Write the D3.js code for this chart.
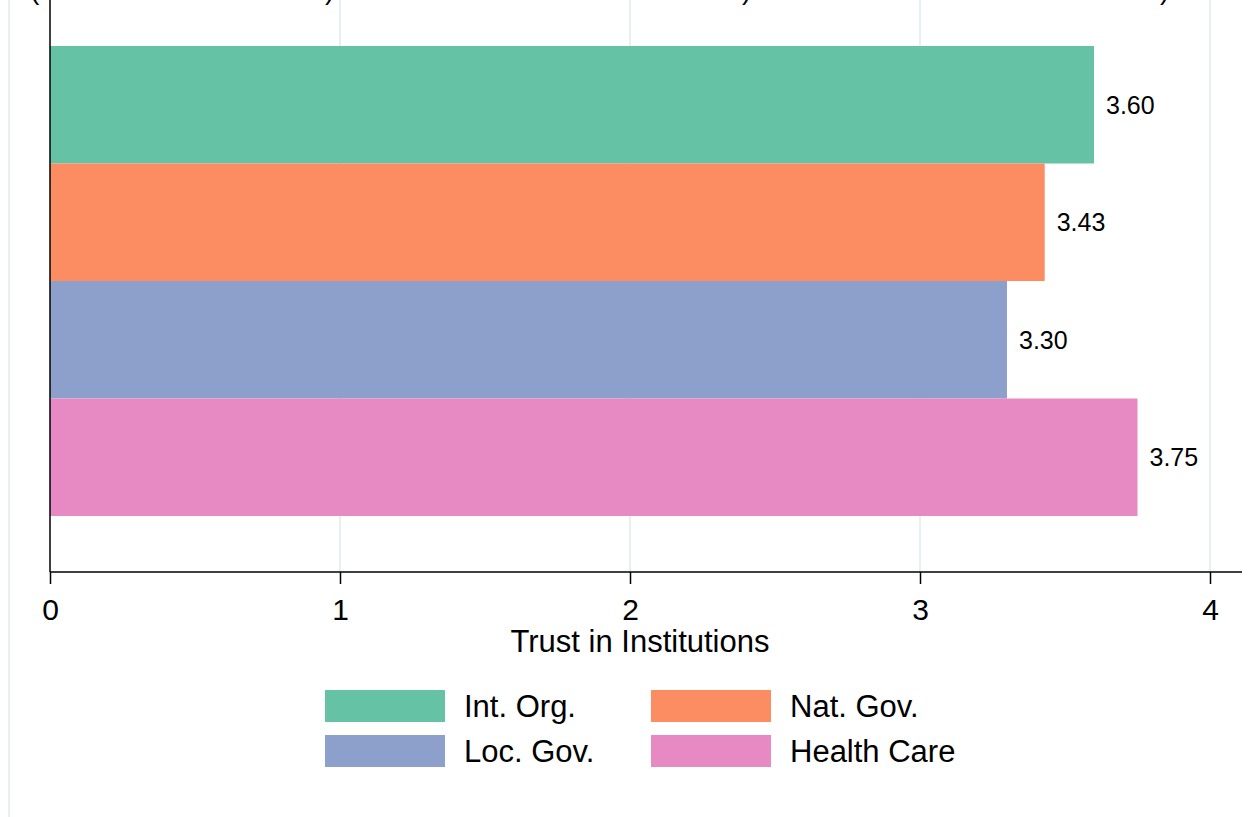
<!DOCTYPE html>
<html><head><meta charset="utf-8">
<script src="https://cdn.jsdelivr.net/npm/d3@7"></script>
<style>
html,body{margin:0;padding:0;background:#fff;}
svg{display:block;font-family:"Liberation Sans",Arial,Helvetica,sans-serif;}
</style></head>
<body>
<script>
const categories = ["Int. Org.", "Nat. Gov.", "Loc. Gov.", "Health Care"];
const values = [3.60, 3.43, 3.30, 3.75];
const colors = ["#66c2a5", "#fc8d62", "#8da0cb", "#e78ac3"];
const xTicks = [0, 1, 2, 3, 4];
const axisTitle = "Trust in Institutions";

const W = 1259, H = 817;
const svg = d3.select("body").append("svg").attr("width", W).attr("height", H);

const x = d3.scaleLinear().domain([0, 4]).range([50, 1210]);
const y = d3.scaleBand().domain(categories).range([46, 516]).paddingInner(0).paddingOuter(0);
const axisY = 572;

// outer light frame line
svg.append("line").attr("x1", 9).attr("x2", 9).attr("y1", 0).attr("y2", H)
  .attr("stroke", "#e8eff4").attr("stroke-width", 2);

// gridlines
svg.append("g").selectAll("line").data(xTicks.filter(d => d > 0)).join("line")
  .attr("x1", d => x(d)).attr("x2", d => x(d)).attr("y1", 0).attr("y2", axisY)
  .attr("stroke", "#e6f0f0").attr("stroke-width", 2);

// cropped title fragments at top (the reference shows only their lower tips)
const frags = [["(", 30], [")", 325], [")", 742], [")", 1160]];
svg.append("g").selectAll("text").data(frags).join("text")
  .attr("x", d => d[1]).attr("y", -1).attr("font-size", 28).attr("fill", "#000")
  .text(d => d[0]);

// bars
svg.append("g").selectAll("rect").data(categories).join("rect")
  .attr("x", x(0)).attr("y", d => y(d))
  .attr("width", (d, i) => x(values[i]) - x(0))
  .attr("height", y.bandwidth())
  .attr("fill", (d, i) => colors[i]);

// value labels
svg.append("g").selectAll("text").data(categories).join("text")
  .attr("x", (d, i) => x(values[i]) + 12)
  .attr("y", d => y(d) + y.bandwidth() / 2)
  .attr("dy", "0.35em").attr("font-size", 25).attr("fill", "#000")
  .text((d, i) => values[i].toFixed(2));

// y axis line
svg.append("line").attr("x1", 50).attr("x2", 50).attr("y1", 0).attr("y2", axisY)
  .attr("stroke", "#000").attr("stroke-width", 1.5);

// x axis
const xAxis = d3.axisBottom(x).tickValues(xTicks).tickFormat(d3.format("d")).tickSize(12).tickPadding(15);
const gx = svg.append("g").attr("transform", `translate(0,${axisY})`).call(xAxis);
gx.select(".domain").attr("d", `M${x(0)},0H1242`).attr("stroke", "#000").attr("stroke-width", 1.5);
gx.selectAll(".tick line").attr("stroke", "#000").attr("stroke-width", 1.5);
gx.selectAll(".tick text").attr("font-size", 30).attr("fill", "#000")
  .attr("font-family", "'Liberation Sans',Arial,sans-serif");

svg.append("text").attr("x", (x(0) + x(4)) / 2 + 10).attr("y", 652)
  .attr("text-anchor", "middle").attr("font-size", 31).attr("fill", "#000")
  .text(axisTitle);

// legend
const legPos = [[325, 690], [651, 690], [325, 735], [651, 735]];
const leg = svg.append("g").selectAll("g").data(categories).join("g")
  .attr("transform", (d, i) => `translate(${legPos[i][0]},${legPos[i][1]})`);
leg.append("rect").attr("width", 120).attr("height", 32).attr("fill", (d, i) => colors[i]);
leg.append("text").attr("x", 139).attr("y", 16).attr("dy", "0.36em")
  .attr("font-size", 31).attr("fill", "#000").text(d => d);
</script>
</body></html>
